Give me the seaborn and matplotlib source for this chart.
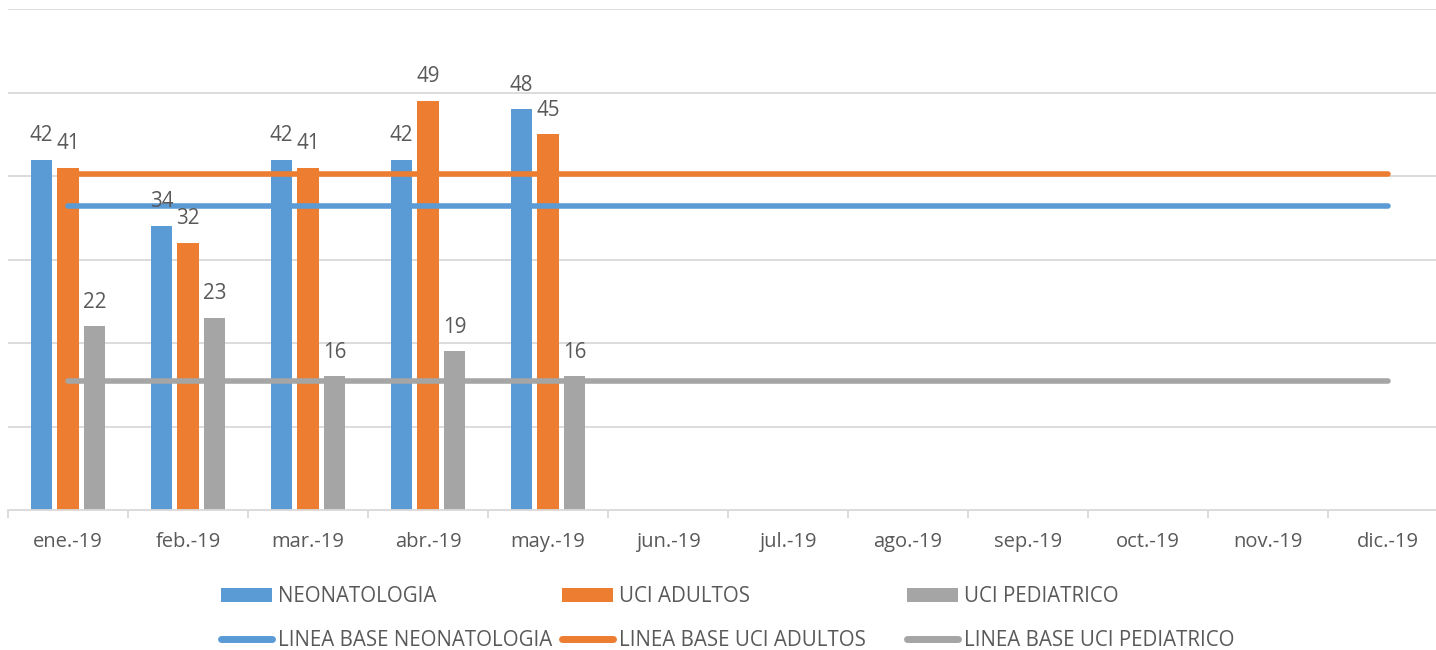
import matplotlib
matplotlib.use("Agg")
import matplotlib.pyplot as plt
from matplotlib.patches import Patch
from matplotlib.lines import Line2D
from matplotlib.ticker import FixedLocator
import seaborn as sns
import pandas as pd

# ---- data ----
months = ["ene.-19", "feb.-19", "mar.-19", "abr.-19", "may.-19", "jun.-19",
          "jul.-19", "ago.-19", "sep.-19", "oct.-19", "nov.-19", "dic.-19"]
observed_months = ["ene.-19", "feb.-19", "mar.-19", "abr.-19", "may.-19"]
neonatologia = [42, 34, 42, 42, 48]
uci_adultos = [41, 32, 41, 49, 45]
uci_pediatrico = [22, 23, 16, 19, 16]
base_neonatologia = 36.4
base_uci_adultos = 40.3
base_uci_pediatrico = 15.4

series_names = ["NEONATOLOGIA", "UCI ADULTOS", "UCI PEDIATRICO"]
base_names = ["LINEA BASE NEONATOLOGIA", "LINEA BASE UCI ADULTOS", "LINEA BASE UCI PEDIATRICO"]
colors = ["#5B9BD5", "#ED7D31", "#A5A5A5"]
text_color = "#595959"
grid_color = "#D9D9D9"

sns.set_theme(style="white")
plt.rcParams["font.family"] = ["Open Sans", "DejaVu Sans"]
plt.rcParams["text.color"] = text_color

bars = pd.DataFrame({
    "mes": observed_months * 3,
    "valor": neonatologia + uci_adultos + uci_pediatrico,
    "serie": [series_names[0]] * 5 + [series_names[1]] * 5 + [series_names[2]] * 5,
})
bases = pd.DataFrame({
    "mes": months * 3,
    "valor": [base_neonatologia] * 12 + [base_uci_adultos] * 12 + [base_uci_pediatrico] * 12,
    "serie": [base_names[0]] * 12 + [base_names[1]] * 12 + [base_names[2]] * 12,
})

W, H = 1436, 650
fig = plt.figure(figsize=(W / 100, H / 100), dpi=100)
ax = fig.add_axes([8 / W, 1 - 510 / H, 1440 / W, (510 - 9.3) / H])

sns.barplot(data=bars, x="mes", y="valor", hue="serie", order=months,
            hue_order=series_names, palette=colors, width=0.665, gap=0.2,
            linewidth=0, saturation=1, ax=ax, legend=False, zorder=2)

for cont in ax.containers:
    ax.bar_label(cont, fmt="%d", padding=10, fontsize=14.8, color=text_color, zorder=5)

line_pos = {m: i for i, m in enumerate(months)}
for name, c in zip(base_names, colors):
    sub = bases[bases["serie"] == name]
    ax.plot([line_pos[m] for m in sub["mes"]], sub["valor"], color=c, lw=4,
            solid_capstyle="round", zorder=3)

ax.set_ylim(0, 60)
ax.set_xlim(-0.5, 11.5)
ax.set_yticks([10, 20, 30, 40, 50, 60])
ax.yaxis.grid(True, color=grid_color, lw=1.3, zorder=0)
ax.set_axisbelow(True)
ax.tick_params(axis="y", left=False, labelleft=False)
ax.set_xlabel("")
ax.set_ylabel("")
ax.set_xticks(range(len(months)))
ax.set_xticklabels(months, fontsize=14.5, color=text_color)
ax.tick_params(axis="x", which="major", length=0, pad=16)
ax.xaxis.set_minor_locator(FixedLocator([i + 0.5 for i in range(-1, 12)]))
ax.tick_params(axis="x", which="minor", length=6, color=grid_color, width=1.3, bottom=True)
for s in ["top", "right", "left"]:
    ax.spines[s].set_visible(False)
ax.spines["bottom"].set_color(grid_color)
ax.spines["bottom"].set_linewidth(1.3)

# legend: three columns, each with bar + baseline
col_x = [222, 563, 908]
for i in range(3):
    handles = [Patch(facecolor=colors[i], edgecolor="none"),
               Line2D([0], [0], color=colors[i], lw=5, solid_capstyle="round")]
    leg = fig.legend(handles, [series_names[i], base_names[i]], loc="center left",
                     bbox_to_anchor=((col_x[i] - 1) / W, 1 - 618.5 / H), frameon=False,
                     fontsize=14.8, handlelength=2.5, handleheight=0.68,
                     handletextpad=0.25, labelspacing=1.12, borderpad=0,
                     borderaxespad=0)
    for t in leg.get_texts():
        t.set_color(text_color)

fig.savefig("out.png", dpi=100)
